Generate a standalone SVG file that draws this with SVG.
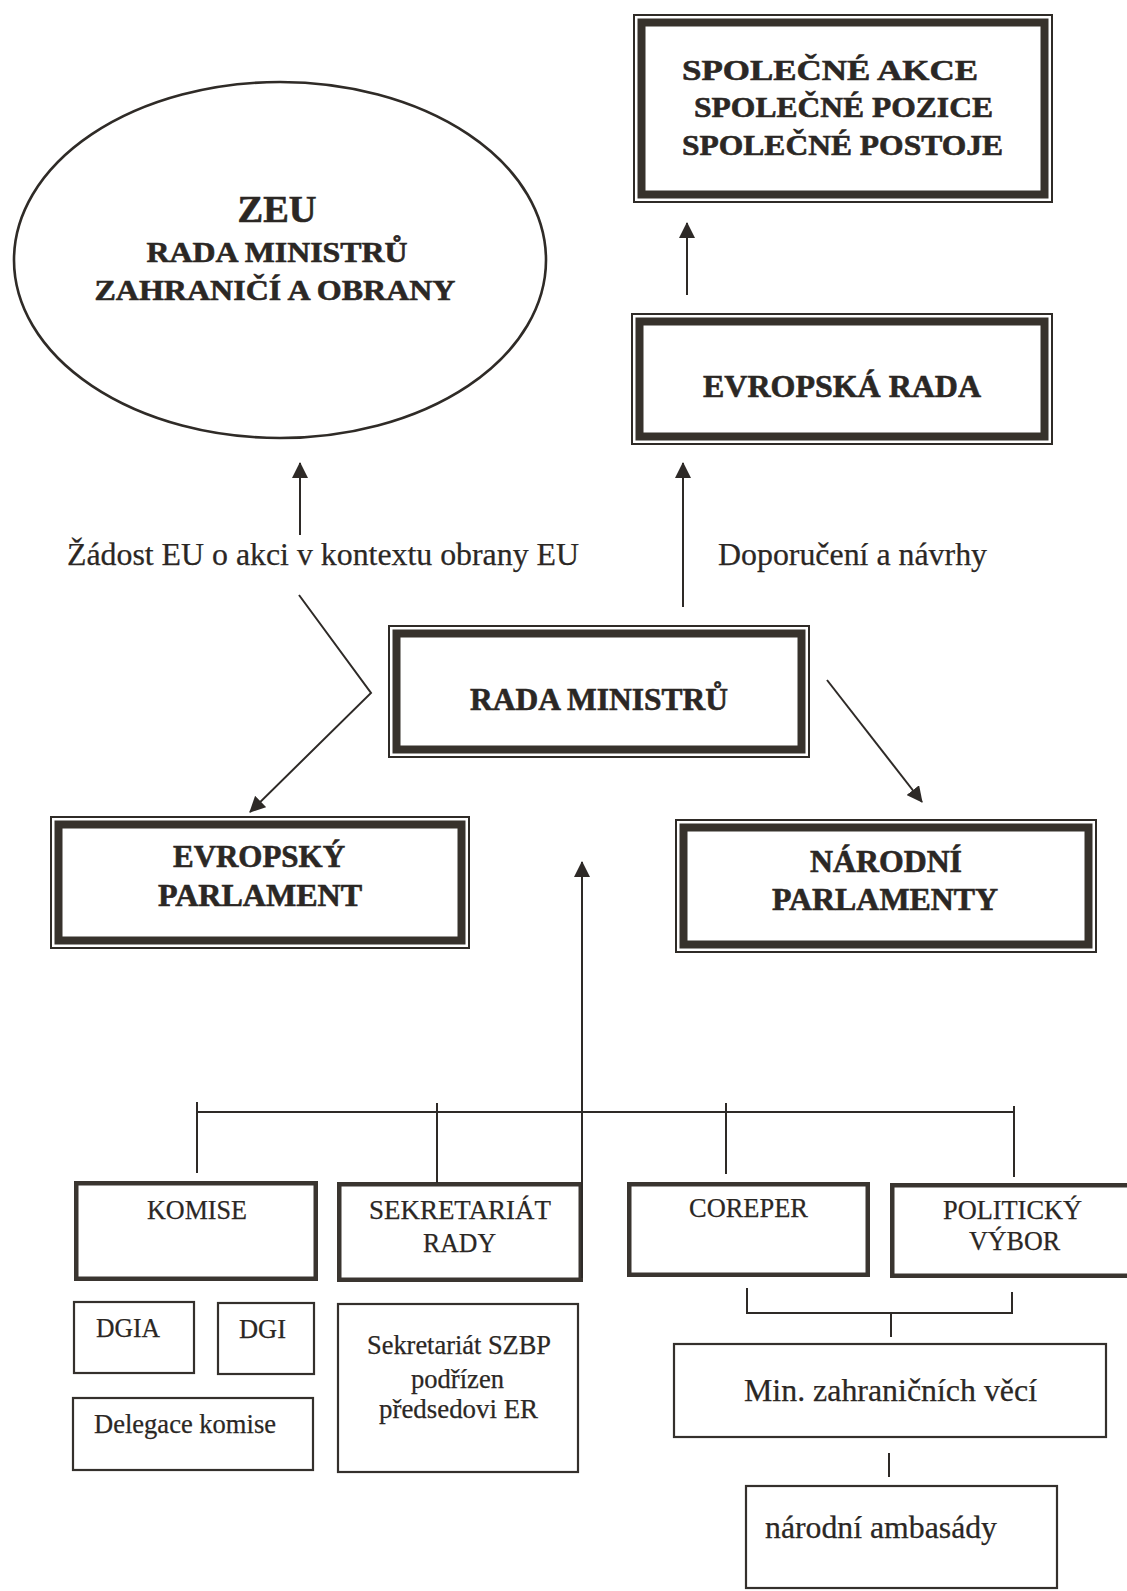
<svg xmlns="http://www.w3.org/2000/svg" width="1127" height="1591" viewBox="0 0 1127 1591">
<style>
  .bg{fill:#ffffff}
  .thin{fill:none;stroke:#2f2b27;stroke-width:2}
  .band{fill:none;stroke:#37322c;stroke-width:8}
  .mid{fill:none;stroke:#3a3530;stroke-width:4.5}
  .sm{fill:none;stroke:#34302c;stroke-width:2.2}
  .ell{fill:none;stroke:#2f2b27;stroke-width:2.6}
  .b{font-family:"Liberation Serif","Times New Roman",serif;font-weight:bold;fill:#2b2724;stroke:#2b2724;stroke-width:0.6}
  .r{font-family:"Liberation Serif","Times New Roman",serif;fill:#2b2724;stroke:#2b2724;stroke-width:0.25}
  .con{fill:none;stroke:#2e2a27;stroke-width:2}
</style>
<defs>
  <marker id="ah" viewBox="0 0 16 16" refX="15" refY="8" markerWidth="16" markerHeight="16" markerUnits="userSpaceOnUse" orient="auto">
    <path d="M0,0 L16,8 L0,16 z" fill="#2e2a27"/>
  </marker>
</defs>
<rect class="bg" x="0" y="0" width="1127" height="1591"/>

<g id="spolecne">
  <rect class="thin" x="634" y="15" width="418" height="187"/>
  <rect class="band" x="641.5" y="22.5" width="403" height="172"/>
  <text class="b" x="682" y="80" font-size="30" textLength="296" lengthAdjust="spacingAndGlyphs">SPOLEČNÉ AKCE</text>
  <text class="b" x="694" y="117" font-size="30" textLength="299" lengthAdjust="spacingAndGlyphs">SPOLEČNÉ POZICE</text>
  <text class="b" x="682" y="155" font-size="30" textLength="321" lengthAdjust="spacingAndGlyphs">SPOLEČNÉ POSTOJE</text>
</g>

<g id="zeu">
  <ellipse class="ell" cx="280" cy="260" rx="266" ry="178"/>
  <text class="b" x="277" y="222" font-size="37" text-anchor="middle" textLength="79" lengthAdjust="spacingAndGlyphs">ZEU</text>
  <text class="b" x="277" y="262" font-size="30" text-anchor="middle" textLength="261" lengthAdjust="spacingAndGlyphs">RADA MINISTRŮ</text>
  <text class="b" x="275" y="300" font-size="30" text-anchor="middle" textLength="361" lengthAdjust="spacingAndGlyphs">ZAHRANIČÍ A OBRANY</text>
</g>

<g id="evropska-rada">
  <rect class="thin" x="632" y="314" width="420" height="130"/>
  <rect class="band" x="639.5" y="321.5" width="405" height="115"/>
  <text class="b" x="703" y="397" font-size="32" textLength="278" lengthAdjust="spacingAndGlyphs">EVROPSKÁ RADA</text>
</g>

<g id="rada-ministru">
  <rect class="thin" x="389" y="626" width="420" height="131"/>
  <rect class="band" x="396.5" y="633.5" width="405" height="116"/>
  <text class="b" x="470" y="710" font-size="32" textLength="258" lengthAdjust="spacingAndGlyphs">RADA MINISTRŮ</text>
</g>

<g id="evropsky-parlament">
  <rect class="thin" x="51" y="817" width="418" height="131"/>
  <rect class="band" x="58.5" y="824.5" width="403" height="116"/>
  <text class="b" x="173" y="867" font-size="31" textLength="172" lengthAdjust="spacingAndGlyphs">EVROPSKÝ</text>
  <text class="b" x="158" y="906" font-size="31" textLength="204" lengthAdjust="spacingAndGlyphs">PARLAMENT</text>
</g>

<g id="narodni-parlamenty">
  <rect class="thin" x="676" y="820" width="420" height="132"/>
  <rect class="band" x="683.5" y="827.5" width="405" height="117"/>
  <text class="b" x="810" y="872" font-size="31" textLength="152" lengthAdjust="spacingAndGlyphs">NÁRODNÍ</text>
  <text class="b" x="772" y="910" font-size="31" textLength="226" lengthAdjust="spacingAndGlyphs">PARLAMENTY</text>
</g>

<g id="labels">
  <text class="r" x="67" y="565" font-size="32" textLength="512" lengthAdjust="spacingAndGlyphs">Žádost EU o akci v kontextu obrany EU</text>
  <text class="r" x="718" y="565" font-size="32" textLength="269" lengthAdjust="spacingAndGlyphs">Doporučení a návrhy</text>
</g>

<g id="komise">
  <rect class="mid" x="76.25" y="1183.25" width="239.5" height="95.5"/>
  <text class="r" x="147" y="1219" font-size="26.5" textLength="100" lengthAdjust="spacingAndGlyphs">KOMISE</text>
</g>

<g id="sekretariat-rady">
  <rect class="mid" x="339.25" y="1184.25" width="241.5" height="95.5"/>
  <text class="r" x="369" y="1219" font-size="26.5" textLength="182" lengthAdjust="spacingAndGlyphs">SEKRETARIÁT</text>
  <text class="r" x="423" y="1252" font-size="26.5" textLength="73" lengthAdjust="spacingAndGlyphs">RADY</text>
</g>

<g id="coreper">
  <rect class="mid" x="629.25" y="1184.25" width="238.5" height="90.5"/>
  <text class="r" x="689" y="1217" font-size="26.5" textLength="119" lengthAdjust="spacingAndGlyphs">COREPER</text>
</g>

<g id="politicky-vybor">
  <rect class="mid" x="892.25" y="1185.25" width="250" height="90.5"/>
  <text class="r" x="943" y="1219" font-size="26.5" textLength="139" lengthAdjust="spacingAndGlyphs">POLITICKÝ</text>
  <text class="r" x="969" y="1250" font-size="26.5" textLength="91" lengthAdjust="spacingAndGlyphs">VÝBOR</text>
</g>

<g id="dgia">
  <rect class="sm" x="74" y="1302" width="120" height="71"/>
  <text class="r" x="96" y="1337" font-size="26.5" textLength="64" lengthAdjust="spacingAndGlyphs">DGIA</text>
</g>

<g id="dgi">
  <rect class="sm" x="218" y="1303" width="96" height="71"/>
  <text class="r" x="239" y="1338" font-size="26.5" textLength="47" lengthAdjust="spacingAndGlyphs">DGI</text>
</g>

<g id="delegace-komise">
  <rect class="sm" x="73" y="1398" width="240" height="72"/>
  <text class="r" x="94" y="1433" font-size="26.5" textLength="182" lengthAdjust="spacingAndGlyphs">Delegace komise</text>
</g>

<g id="sekretariat-szbp">
  <rect class="sm" x="338" y="1304" width="240" height="168"/>
  <text class="r" x="367" y="1354" font-size="26.5" textLength="184" lengthAdjust="spacingAndGlyphs">Sekretariát SZBP</text>
  <text class="r" x="411" y="1388" font-size="26.5" textLength="93" lengthAdjust="spacingAndGlyphs">podřízen</text>
  <text class="r" x="379" y="1418" font-size="26.5" textLength="159" lengthAdjust="spacingAndGlyphs">předsedovi ER</text>
</g>

<g id="min-zahranicnich-veci">
  <rect class="sm" x="674" y="1344" width="432" height="93"/>
  <text class="r" x="744" y="1401" font-size="32" textLength="293" lengthAdjust="spacingAndGlyphs">Min. zahraničních věcí</text>
</g>

<g id="narodni-ambasady">
  <rect class="sm" x="746" y="1486" width="311" height="102"/>
  <text class="r" x="765" y="1538" font-size="32" textLength="232" lengthAdjust="spacingAndGlyphs">národní ambasády</text>
</g>

<g id="connectors">
  <line class="con" x1="687" y1="295" x2="687" y2="223" marker-end="url(#ah)"/>
  <line class="con" x1="683" y1="607" x2="683" y2="463" marker-end="url(#ah)"/>
  <line class="con" x1="300" y1="535" x2="300" y2="463" marker-end="url(#ah)"/>
  <polyline class="con" points="299,595 371,693 250,812" marker-end="url(#ah)"/>
  <line class="con" x1="827" y1="680" x2="922" y2="802" marker-end="url(#ah)"/>
  <line class="con" x1="582" y1="1278" x2="582" y2="862" marker-end="url(#ah)"/>
  <line class="con" x1="197" y1="1112" x2="1014" y2="1112"/>
  <line class="con" x1="197" y1="1102" x2="197" y2="1173"/>
  <line class="con" x1="437" y1="1103" x2="437" y2="1183"/>
  <line class="con" x1="726" y1="1103" x2="726" y2="1174"/>
  <line class="con" x1="1014" y1="1106" x2="1014" y2="1177"/>
  <polyline class="con" points="747,1288 747,1313 1012,1313 1012,1292"/>
  <line class="con" x1="891" y1="1313" x2="891" y2="1337"/>
  <line class="con" x1="889" y1="1453" x2="889" y2="1477"/>
</g>
</svg>
